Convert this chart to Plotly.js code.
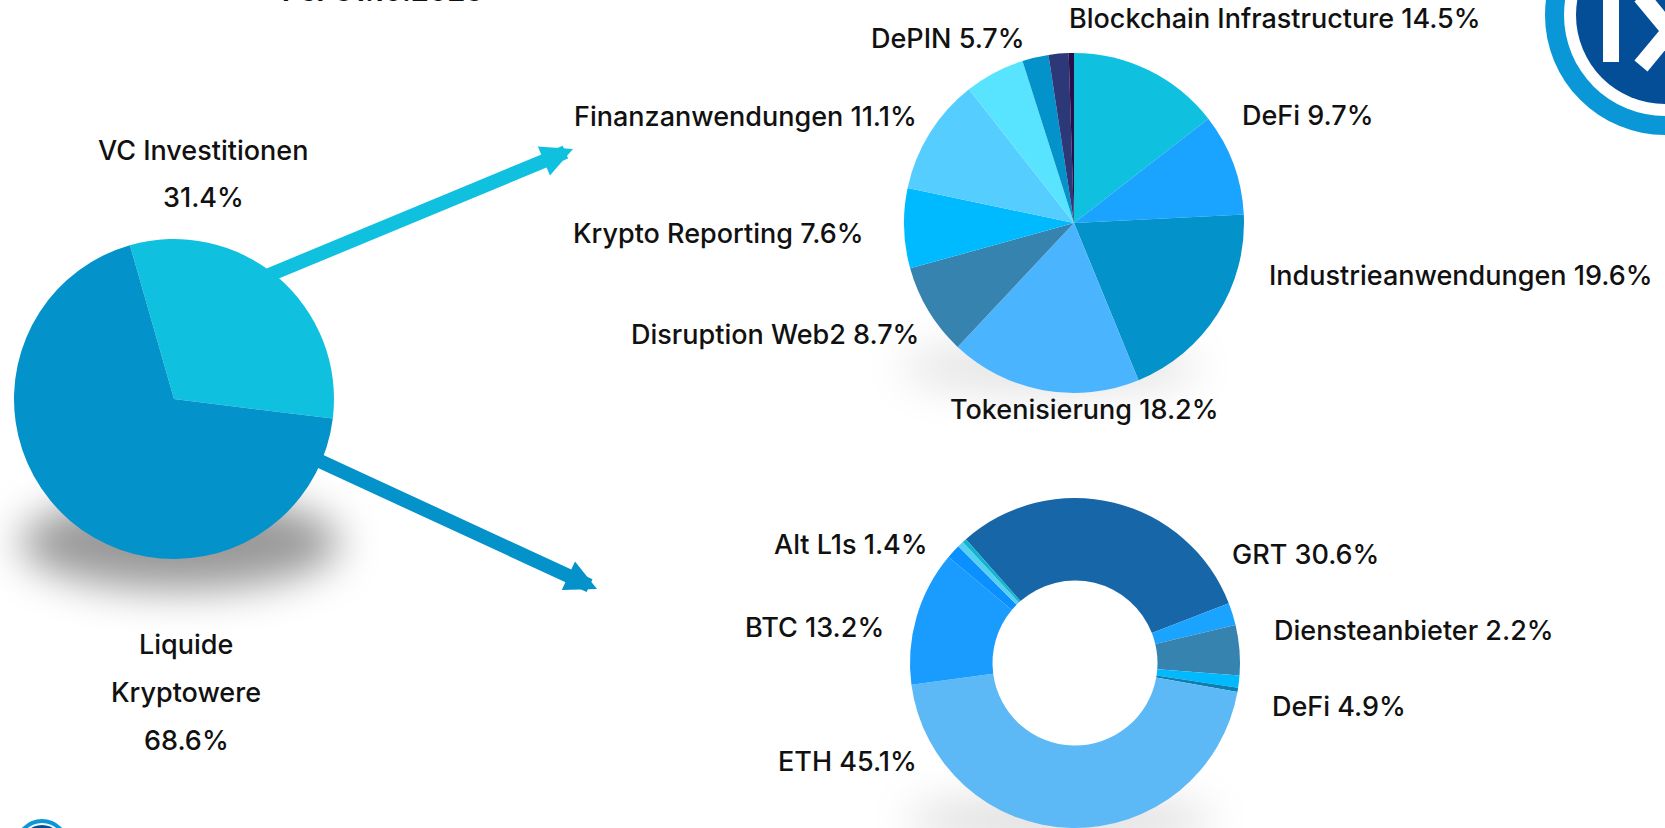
<!DOCTYPE html>
<html>
<head>
<meta charset="utf-8">
<script src="https://cdn.plot.ly/plotly-3.0.1.min.js"></script>
<style>
  html, body { margin: 0; padding: 0; background: #fff; }
  #chart { width: 1665px; height: 828px; }
</style>
</head>
<body>
<div id="chart"></div>
<script>
// Gesamtaufteilung
const splitLabels = ['VC Investitionen', 'Liquide<br>Kryptowere'];
const splitValues = [31.4, 68.6];

// VC Investitionen (leere Namen = kleine Restsegmente ohne Beschriftung)
const vcLabels = ['Blockchain Infrastructure', 'DeFi', 'Industrieanwendungen', 'Tokenisierung',
  'Disruption Web2', 'Krypto Reporting', 'Finanzanwendungen', 'DePIN', '', '', ''];
const vcValues = [14.5, 9.7, 19.6, 18.2, 8.7, 7.6, 11.1, 5.7, 2.5, 1.9, 0.5];

// Liquide Kryptowere
const liqLabels = ['GRT', 'Diensteanbieter', 'DeFi', '', '', 'ETH', 'BTC', 'Alt L1s', '', ''];
const liqValues = [30.6, 2.2, 4.9, 1.2, 0.4, 45.1, 13.2, 1.4, 0.6, 0.4];

const dateText = 'Per 31.10.2023';

// Farben
const splitColors = ['#0fc1df', '#0392c9'];
const vcColors = ['#0fc1df', '#1aa3ff', '#0392c9', '#4bb4ff', '#3783af', '#00baff',
  '#56cdff', '#58e4ff', '#0392c9', '#2c3878', '#2a0e4a'];
const liqColors = ['#1766a8', '#1aa3ff', '#3783af', '#00b9ff', '#0a7fb0', '#5db8f6',
  '#1a9cff', '#0a90ff', '#55d0f0', '#12b5d0'];

// Positionen der Beschriftungen (Pixel: x, y der ersten Zeile)
const splitLabelPos = [[203, 150], [186, 644]];
const splitLineGap = 48;
const vcLabelPos = [[1067, 19], [1240, 116], [1267, 276], [948, 409], [629, 334],
  [571, 234], [572, 117], [869, 39]];
const liqLabelPos = [[1230, 554], [1272, 630], [1270, 706], null, null, [776, 761],
  [743, 627], [772, 544]];

const W = 1665, H = 828;
const px = x => x / W;
const py = y => 1 - y / H;

function domainFor(cx, cy, r) {
  return { x: [px(cx - r), px(cx + r)], y: [py(cy + r), py(cy - r)] };
}

function pieTrace(values, colors, dom, rotation, hole) {
  return {
    type: 'pie',
    values: values,
    labels: values.map((v, i) => 's' + i),
    sort: false,
    direction: 'clockwise',
    rotation: rotation,
    hole: hole || 0,
    textinfo: 'none',
    hoverinfo: 'skip',
    showlegend: false,
    marker: { colors: colors, line: { width: 0 } },
    domain: dom
  };
}

const data = [
  pieTrace(splitValues, splitColors, domainFor(174, 399, 160), -16),
  pieTrace(vcValues, vcColors, domainFor(1074, 223, 170), 0),
  pieTrace(liqValues, liqColors, domainFor(1075, 663, 165), -41.4, 0.5)
];

const font = { family: 'Inter, Roboto, sans-serif', size: 27, weight: 500, color: '#111' };
const annotations = [];

function textAt(x, y, text, anchor) {
  annotations.push({
    xref: 'paper', yref: 'paper', x: px(x), y: py(y),
    xanchor: anchor, yanchor: 'middle', showarrow: false,
    text: text, font: font
  });
}

splitLabels.forEach((name, i) => {
  const lines = name.split('<br>').concat([splitValues[i].toFixed(1) + '%']);
  lines.forEach((line, k) => {
    textAt(splitLabelPos[i][0], splitLabelPos[i][1] + k * splitLineGap, line, 'center');
  });
});

function sliceLabels(labels, values, pos) {
  labels.forEach((name, i) => {
    if (!name) return;
    textAt(pos[i][0], pos[i][1], name + ' ' + values[i].toFixed(1) + '%', 'left');
  });
}
sliceLabels(vcLabels, vcValues, vcLabelPos);
sliceLabels(liqLabels, liqValues, liqLabelPos);

// Datum (oben angeschnitten)
annotations.push({
  xref: 'paper', yref: 'paper', x: px(382), y: py(10), xanchor: 'center', yanchor: 'bottom',
  showarrow: false, text: '<b>' + dateText + '</b>',
  font: { family: 'Inter, Roboto, sans-serif', size: 28, color: '#111' }
});

// Pfeile
function arrow(from, to, color) {
  annotations.push({
    xref: 'paper', yref: 'paper', x: px(to[0]), y: py(to[1]),
    ax: from[0] - to[0], ay: from[1] - to[1], text: '',
    showarrow: true, arrowhead: 2, arrowsize: 0.45, arrowwidth: 14, arrowcolor: color
  });
}
arrow([245, 285], [573, 149], splitColors[0]);
arrow([300, 452], [597, 589], splitColors[1]);

function circle(cx, cy, r, color, layer) {
  return {
    type: 'circle', xref: 'paper', yref: 'paper', layer: layer || 'above',
    x0: px(cx - r), x1: px(cx + r), y0: py(cy + r), y1: py(cy - r),
    fillcolor: color, line: { width: 0 }
  };
}

function shadow(x0, y0, x1, y1, alpha) {
  return {
    type: 'circle', xref: 'paper', yref: 'paper', layer: 'below',
    x0: px(x0), x1: px(x1), y0: py(y1), y1: py(y0),
    fillcolor: 'rgba(0,0,0,' + alpha + ')', line: { width: 0 }
  };
}

const shapes = [
  // Schatten
  shadow(20, 495, 340, 590, 0.4),
  shadow(900, 340, 1200, 395, 0.1),
  shadow(905, 795, 1215, 845, 0.12),
  // Logo oben rechts
  circle(1665, 15, 120, '#0a97d7'),
  circle(1665, 15, 101, '#ffffff'),
  circle(1665, 15, 89, '#034e96'),
  { type: 'rect', xref: 'paper', yref: 'paper', x0: px(1603), x1: px(1619), y0: py(62), y1: py(-5),
    fillcolor: '#ffffff', line: { width: 0 } },
  { type: 'line', xref: 'paper', yref: 'paper', x0: px(1641), y0: py(-4), x1: px(1699), y1: py(66),
    line: { color: '#ffffff', width: 17 } },
  { type: 'line', xref: 'paper', yref: 'paper', x0: px(1641), y0: py(66), x1: px(1699), y1: py(-4),
    line: { color: '#ffffff', width: 17 } },
  // Logo unten links
  circle(42, 846, 27, '#0a97d7'),
  circle(42, 846, 23, '#ffffff'),
  circle(42, 846, 21, '#034e96')
];

const layout = {
  width: W, height: H,
  margin: { l: 0, r: 0, t: 0, b: 0 },
  paper_bgcolor: '#ffffff',
  showlegend: false,
  annotations: annotations,
  shapes: shapes
};

Plotly.newPlot('chart', data, layout, { staticPlot: true }).then(gd => {
  // weiche Schatten unter den Kreisen
  const ns = 'http://www.w3.org/2000/svg';
  const defs = gd.querySelector('.main-svg defs');
  const f = document.createElementNS(ns, 'filter');
  f.setAttribute('id', 'softShadow');
  f.setAttribute('x', '-50%'); f.setAttribute('y', '-50%');
  f.setAttribute('width', '200%'); f.setAttribute('height', '200%');
  const blur = document.createElementNS(ns, 'feGaussianBlur');
  blur.setAttribute('stdDeviation', '20');
  f.appendChild(blur);
  defs.appendChild(f);
  gd.querySelectorAll('.layer-below .shapelayer path').forEach(p => {
    p.setAttribute('filter', 'url(#softShadow)');
  });
});
</script>
</body>
</html>
